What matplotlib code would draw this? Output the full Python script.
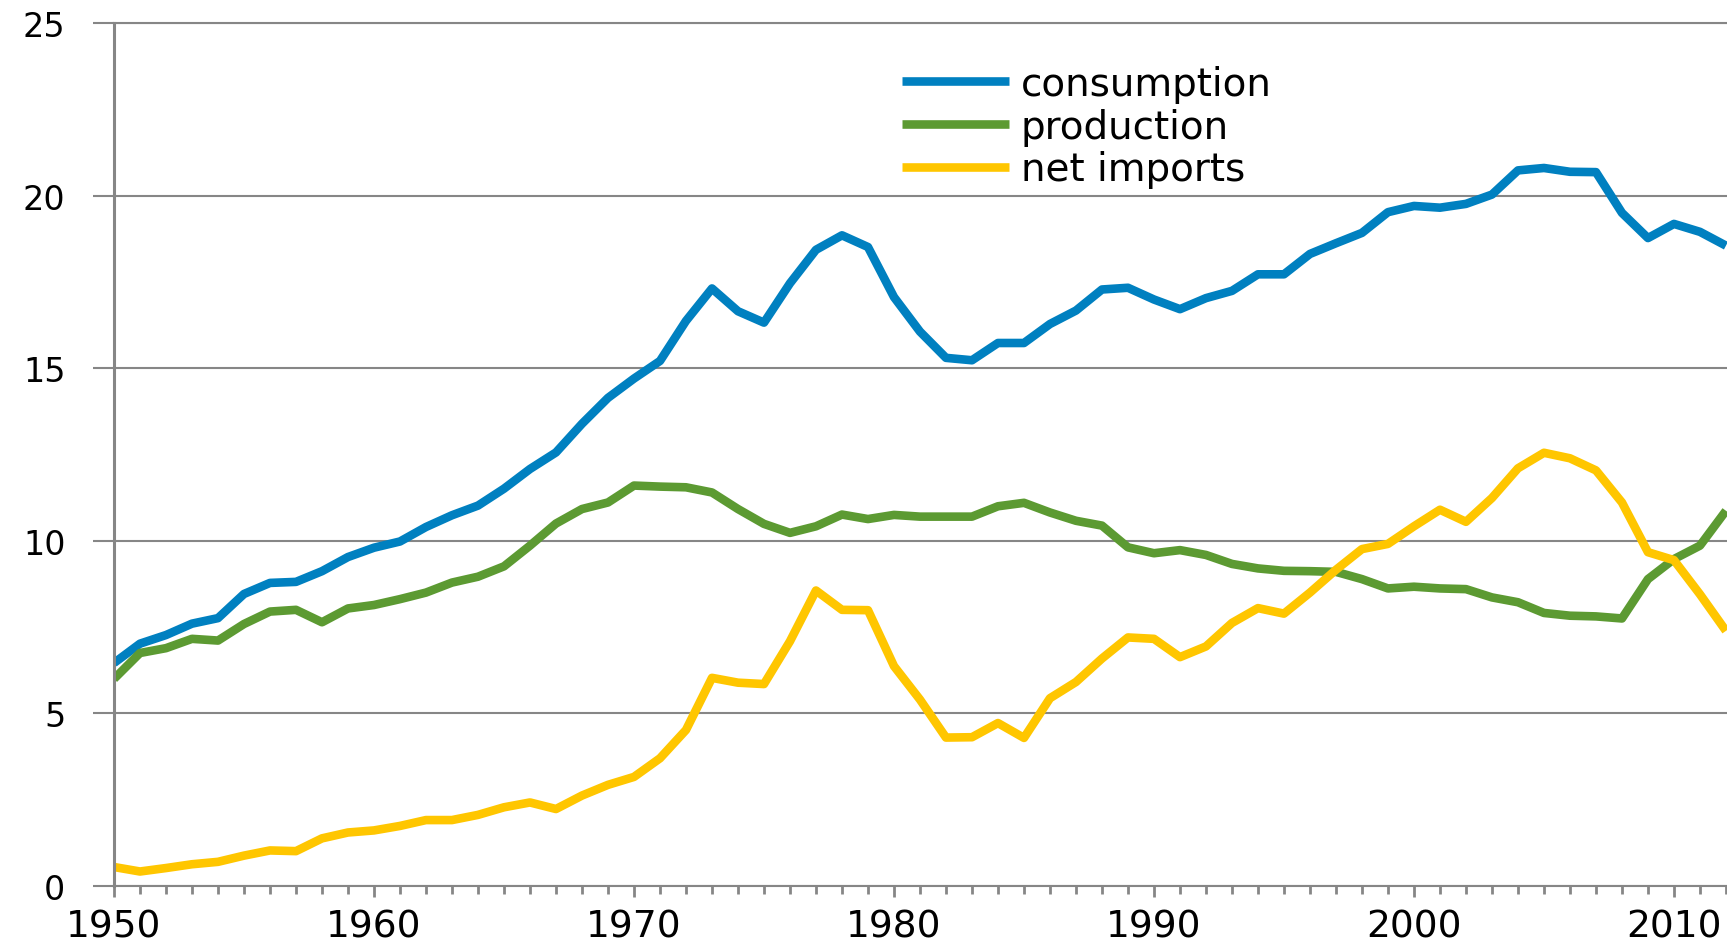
import matplotlib
matplotlib.use("Agg")
import matplotlib.pyplot as plt

# Datos (millones de barriles por dia)
anios = list(range(1950, 2013))

consumo = [6.46, 7.02, 7.27, 7.60, 7.76, 8.46, 8.78, 8.81, 9.12, 9.53,
           9.80, 9.98, 10.40, 10.74, 11.02, 11.51, 12.08, 12.56, 13.39, 14.14,
           14.70, 15.21, 16.37, 17.31, 16.65, 16.32, 17.46, 18.43, 18.85, 18.51,
           17.06, 16.06, 15.30, 15.23, 15.73, 15.73, 16.28, 16.67, 17.28, 17.33,
           16.99, 16.71, 17.03, 17.24, 17.72, 17.72, 18.31, 18.62, 18.92, 19.52,
           19.70, 19.65, 19.76, 20.03, 20.73, 20.80, 20.69, 20.68, 19.50, 18.77,
           19.18, 18.95, 18.55]

produccion = [6.00, 6.75, 6.89, 7.16, 7.11, 7.59, 7.95, 8.00, 7.64, 8.04,
              8.14, 8.31, 8.50, 8.79, 8.96, 9.26, 9.86, 10.50, 10.92, 11.11,
              11.60, 11.57, 11.55, 11.40, 10.92, 10.49, 10.23, 10.42, 10.76, 10.63,
              10.75, 10.70, 10.70, 10.70, 11.00, 11.10, 10.82, 10.58, 10.44, 9.81,
              9.64, 9.73, 9.59, 9.33, 9.20, 9.13, 9.12, 9.10, 8.89, 8.62,
              8.67, 8.62, 8.60, 8.36, 8.22, 7.91, 7.83, 7.81, 7.75, 8.89,
              9.47, 9.86, 10.87]

importaciones = [0.55, 0.42, 0.52, 0.63, 0.70, 0.88, 1.03, 1.01, 1.38, 1.55,
                 1.61, 1.74, 1.91, 1.91, 2.06, 2.28, 2.42, 2.23, 2.62, 2.93,
                 3.16, 3.70, 4.52, 6.03, 5.89, 5.85, 7.09, 8.56, 8.00, 7.99,
                 6.37, 5.40, 4.30, 4.31, 4.72, 4.29, 5.44, 5.91, 6.59, 7.20,
                 7.16, 6.63, 6.94, 7.62, 8.05, 7.89, 8.50, 9.16, 9.76, 9.91,
                 10.42, 10.90, 10.55, 11.24, 12.10, 12.55, 12.39, 12.04, 11.11, 9.67,
                 9.44, 8.45, 7.39]

etiquetas = ["consumption", "production", "net imports"]
colores = ["#0080C0", "#5C9A32", "#FFC600"]
gris = "#868686"

W, H = 1727, 945
fig = plt.figure(figsize=(W / 100, H / 100), dpi=100)
ax = fig.add_axes([114 / W, 1 - 887 / H, 1 - 114 / W, (887 - 24) / H])

for serie, nombre, color in zip([consumo, produccion, importaciones], etiquetas, colores):
    ax.plot(anios, serie, color=color, lw=6.2, label=nombre,
            solid_joinstyle="round", solid_capstyle="butt")

ax.set_xlim(1950, 2012.04)
ax.set_ylim(0, 25)
ax.set_yticks(range(0, 26, 5))
ax.set_xticks(range(1950, 2011, 10))
ax.set_xticks(anios, minor=True)

ax.grid(axis="y", color=gris, lw=1.5)
ax.set_axisbelow(True)

ax.spines["right"].set_visible(False)
ax.spines["top"].set_color(gris)
ax.spines["top"].set_linewidth(1.5)
ax.spines["bottom"].set_color(gris)
ax.spines["bottom"].set_linewidth(1.5)
ax.spines["left"].set_color(gris)
ax.spines["left"].set_linewidth(2.2)

ax.tick_params(axis="y", direction="out", length=15, width=1.5, color=gris,
               pad=20, labelsize=24, labelcolor="black")
ax.tick_params(axis="x", which="major", direction="out", length=8, width=2,
               color=gris, pad=8.5, labelsize=27, labelcolor="black")
ax.tick_params(axis="x", which="minor", direction="out", length=5.8, width=2,
               color=gris)

ax.legend(loc="upper left", bbox_to_anchor=(902 / W, 1 - 66 / H),
          bbox_transform=fig.transFigure, frameon=False, fontsize=28,
          handlelength=2.75, handletextpad=0.3, labelspacing=0.12,
          borderpad=0, borderaxespad=0)

fig.savefig("out.png", dpi=100)
